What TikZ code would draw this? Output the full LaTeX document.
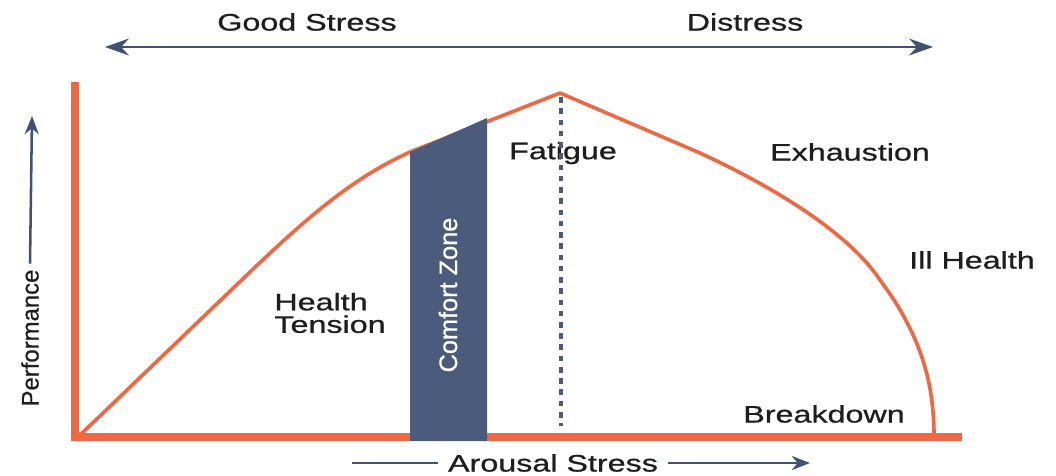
\documentclass[tikz,border=0pt]{standalone}
\usepackage{fontspec}
\setmainfont{Liberation Sans}
\newfontfamily\lblfont{Liberation Sans}[FakeBold=0.7]
\usetikzlibrary{arrows.meta}
\definecolor{curveorange}{RGB}{238,104,68}
\definecolor{zoneblue}{RGB}{74,91,124}
\definecolor{arrowblue}{RGB}{63,82,117}
\definecolor{txtgray}{RGB}{30,30,30}
\tikzset{
  lbl/.style={font=\lblfont\fontsize{17}{19}\selectfont, text=txtgray, xscale=1.35, inner sep=0pt},
  axisline/.style={curveorange, line width=6pt},
  bluearrow/.style={arrowblue, line width=1.8pt, -{Stealth[length=13pt,width=10pt]}}
}
\begin{document}
\begin{tikzpicture}[x=0.025cm, y=-0.025cm]
\useasboundingbox (0,0) rectangle (1056,475);
% labels
\node[lbl] (good) at (307,22) {Good Stress};
\node[lbl] (dist) at (745,22) {Distress};
\node[lbl] (fat) at (563,153) {Fatigue};
\node[lbl] (exh) at (850,152) {Exhaustion};
\node[lbl] (ill) at (972,260) {Ill Health};
\node[lbl, align=left] (ht) at (330,313) {Health\\[-3pt]Tension};
\node[lbl] (brk) at (824,414) {Breakdown};
\node[font=\lblfont\fontsize{17}{19}\selectfont, text=txtgray, rotate=90, inner sep=4pt] (perf) at (30,338) {Performance};
\node[lbl, inner xsep=5pt] (arousal) at (553,463) {Arousal Stress};
% arrows
\coordinate (gsL) at (105,47);
\coordinate (gsR) at (933,47);
\draw[arrowblue, line width=1.8pt, {Stealth[length=17pt,width=12pt]}-{Stealth[length=17pt,width=12pt]}] (gsL) -- (gsR);
\coordinate (perfTip) at (32,116);
\draw[bluearrow] (perf.east) -- (perfTip);
\coordinate (arL) at (352,463);
\coordinate (arR) at (810,463);
\draw[arrowblue, line width=1.8pt] (arL) -- (arousal.west);
\draw[bluearrow] (arousal.east) -- (arR);
% axes
\draw[axisline] (75,82) -- (75,437) -- (962,437);
% curve
\draw[curveorange, line width=2.6pt, line join=round]
  (78,437) -- (250,272) .. controls (320,205) and (360,175) .. (410,152)
  -- (560,93) -- (700,153) .. controls (780,190) and (850,235) .. (880,280)
  .. controls (925,340) and (934,390) .. (934,437);
% comfort zone
\fill[zoneblue] (410,441) -- (410,152) -- (487,118) -- (487,441) -- cycle;
\node[font=\lblfont\fontsize{18}{20}\selectfont, text=white, rotate=90] (cz) at (448,295) {Comfort Zone};
% peak line
\draw[zoneblue, line width=3pt, dash pattern=on 4pt off 4pt] (561,97) -- (561,426);
\end{tikzpicture}
\end{document}
